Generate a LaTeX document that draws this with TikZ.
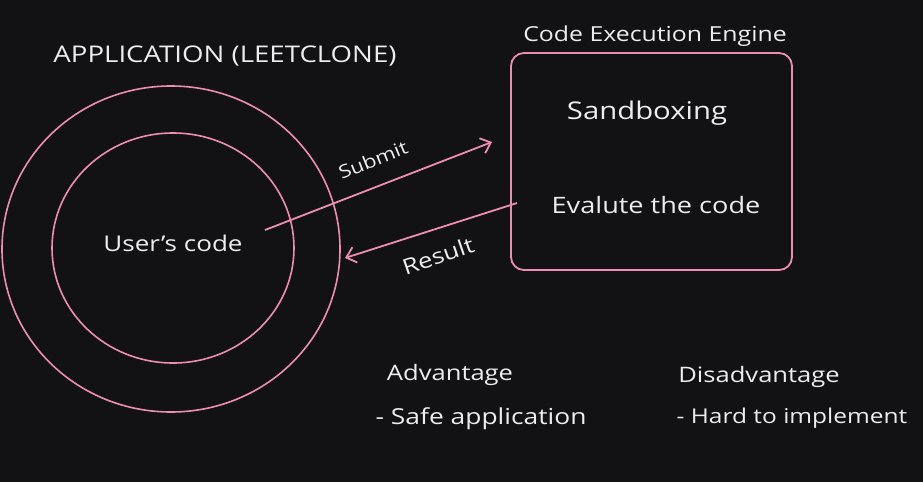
\documentclass[tikz,border=0pt]{standalone}
\usepackage{fontspec}
\setmainfont{Open Sans}[FakeStretch=1.2]
\usetikzlibrary{arrows.meta}
\definecolor{bg}{HTML}{121214}
\definecolor{pinkline}{HTML}{EE8DB3}
\definecolor{chalk}{HTML}{EDEDED}
\tikzset{
  ring/.style={draw=pinkline, line width=1.6pt},
  engine/.style={draw=pinkline, line width=1.8pt, rounded corners=13pt},
  flow/.style={draw=pinkline, line width=1.8pt, -{Straight Barb[length=9pt,width=16pt]}},
  lbl/.style={text=chalk, inner sep=0pt, font=\fontsize{20}{24}\selectfont},
}
\begin{document}
\begin{tikzpicture}[x=1pt,y=-1pt]
\fill[bg] (0,0) rectangle (923,482);
\useasboundingbox (0,0) rectangle (923,482);
% circles
\draw[ring] (171,249) ellipse [x radius=169, y radius=163];
\draw[ring] (173,248) ellipse [x radius=121, y radius=115];
% engine box
\draw[engine] (511,53) rectangle (792,270);
\node[lbl, font=\fontsize{23}{27}\selectfont] (app) at (225,56) {APPLICATION (LEETCLONE)};
\node[lbl, font=\fontsize{20.7}{24}\selectfont] (cee) at (655,36) {Code Execution Engine};
\node[lbl, font=\fontsize{24.4}{30}\selectfont] (sand) at (647,113) {Sandboxing};
\node[lbl, font=\fontsize{22.6}{26}\selectfont] (eval) at (656,205) {Evalute the code};
\node[lbl, font=\fontsize{21.7}{26}\selectfont] (user) at (173,243) {User's code};
\coordinate (s1) at (265,230);
\coordinate (s2) at (492,142);
\coordinate (r1) at (517,203);
\coordinate (r2) at (345,258);
\draw[flow] (s1) -- (s2);
\draw[flow] (r1) -- (r2);
\node[lbl, rotate=22, font=\fontsize{18.3}{22}\selectfont] (submit) at (373,160) {Submit};
\node[lbl, rotate=19, font=\fontsize{21.5}{24}\selectfont] (result) at (438,256) {Result};
\node[lbl, font=\fontsize{21.3}{24}\selectfont] (adv) at (450,375) {Advantage};
\node[lbl, font=\fontsize{22}{24}\selectfont] (safe) at (481,419) {- Safe application};
\node[lbl, font=\fontsize{21.3}{24}\selectfont] (dis) at (759,377) {Disadvantage};
\node[lbl, font=\fontsize{20.4}{24}\selectfont] (hard) at (792,418) {- Hard to implement};
\end{tikzpicture}
\end{document}
